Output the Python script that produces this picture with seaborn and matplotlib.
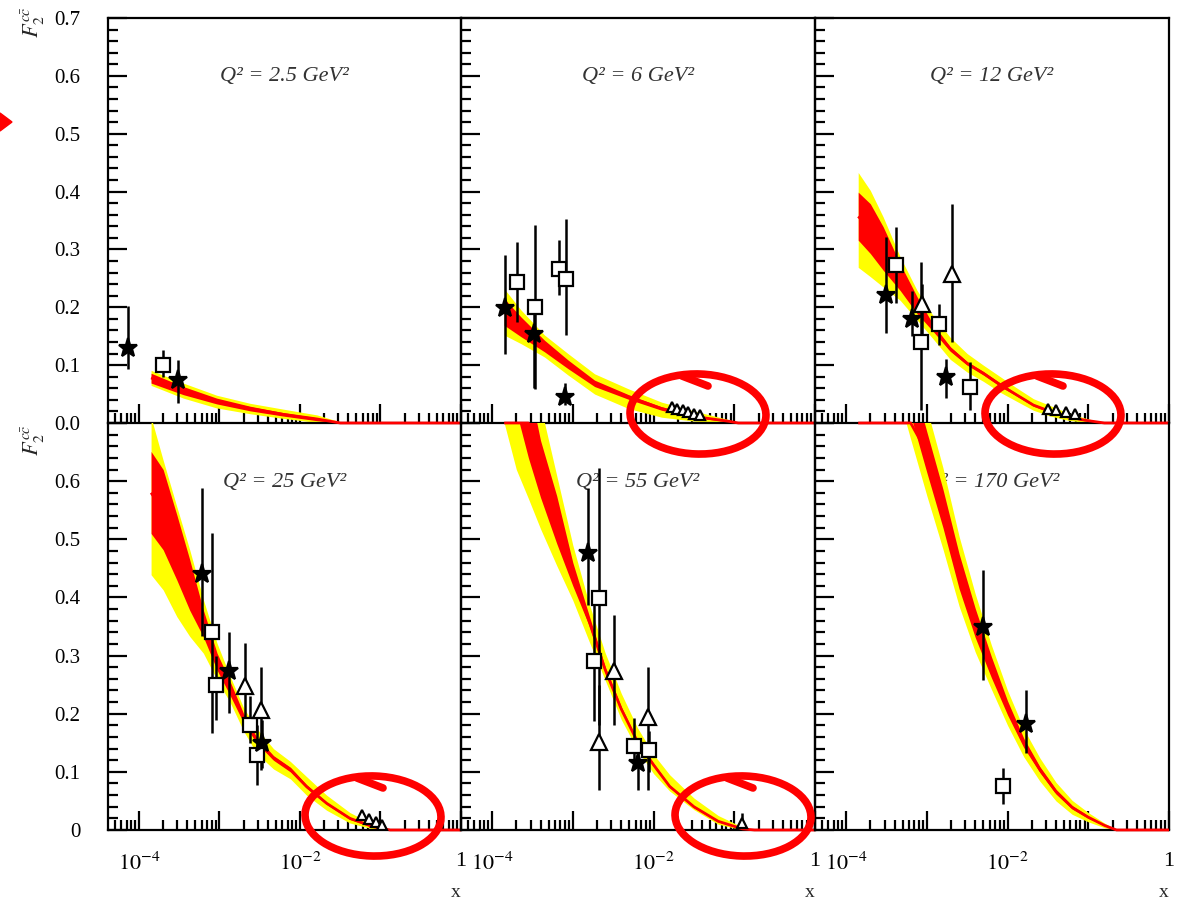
import numpy as np
import pandas as pd
import matplotlib
matplotlib.use("Agg")
import matplotlib.pyplot as plt
import seaborn as sns
from matplotlib.ticker import FixedLocator, FixedFormatter, LogLocator, FuncFormatter, NullFormatter, MultipleLocator
from matplotlib.patches import Ellipse, Polygon
from matplotlib.lines import Line2D

# ---------------- data ----------------
Q2_LABELS = ["Q² = 2.5 GeV²", "Q² = 6 GeV²", "Q² = 12 GeV²",
             "Q² = 25 GeV²", "Q² = 55 GeV²", "Q² = 170 GeV²"]

# theory bands: log10(x), yellow low, red low, central, red high, yellow high
B1_LX = [-3.85, -3.45, -3.035, -2.62, -2.21, -1.79, -1.50, 0.0]
B1_YL = [0.065, 0.043, 0.026, 0.016, 0.008, 0.001, 0.0, 0.0]
B1_RL = [0.069, 0.049, 0.033, 0.021, 0.012, 0.004, 0.0, 0.0]
B1_C = [0.078, 0.056, 0.038, 0.025, 0.015, 0.007, 0.0, 0.0]
B1_RH = [0.086, 0.063, 0.043, 0.029, 0.018, 0.009, 0.001, 0.0]
B1_YH = [0.091, 0.069, 0.048, 0.034, 0.024, 0.014, 0.002, 0.0]

B2_LX = [-3.85, -3.64, -3.35, -3.06, -2.73, -2.31, -1.90, -1.48, -1.07, -0.95, 0.0]
B2_YL = [0.152, 0.137, 0.114, 0.083, 0.050, 0.025, 0.010, 0.003, 0.0, 0.0, 0.0]
B2_RL = [0.169, 0.149, 0.123, 0.094, 0.063, 0.041, 0.022, 0.009, 0.002, 0.0, 0.0]
B2_C = [0.192, 0.166, 0.133, 0.100, 0.068, 0.045, 0.025, 0.011, 0.003, 0.0, 0.0]
B2_RH = [0.215, 0.183, 0.143, 0.109, 0.074, 0.049, 0.028, 0.013, 0.004, 0.0, 0.0]
B2_YH = [0.232, 0.195, 0.152, 0.120, 0.085, 0.059, 0.036, 0.020, 0.006, 0.0, 0.0]

B3_LX = [-3.85, -3.70, -3.54, -3.33, -3.12, -2.92, -2.71, -2.50, -2.30, -2.09, -1.88,
         -1.68, -1.47, -1.26, -1.05, -0.80, 0.0]
B3_YL = [0.269, 0.253, 0.235, 0.212, 0.178, 0.145, 0.110, 0.088, 0.072, 0.053, 0.037,
         0.022, 0.012, 0.005, 0.001, 0.0, 0.0]
B3_RL = [0.316, 0.293, 0.264, 0.229, 0.189, 0.158, 0.124, 0.100, 0.083, 0.063, 0.046,
         0.029, 0.018, 0.009, 0.004, 0.0, 0.0]
B3_C = [0.357, 0.336, 0.300, 0.252, 0.203, 0.164, 0.128, 0.103, 0.086, 0.066, 0.048,
        0.031, 0.020, 0.011, 0.005, 0.0, 0.0]
B3_RH = [0.399, 0.379, 0.339, 0.275, 0.218, 0.170, 0.132, 0.106, 0.089, 0.069, 0.050,
         0.033, 0.022, 0.013, 0.006, 0.0, 0.0]
B3_YH = [0.433, 0.402, 0.356, 0.287, 0.229, 0.185, 0.148, 0.120, 0.100, 0.080, 0.060,
         0.042, 0.030, 0.018, 0.009, 0.0, 0.0]

B4_LX = [-3.85, -3.70, -3.53, -3.37, -3.20, -3.03, -2.87, -2.70, -2.54, -2.33, -2.12,
         -1.92, -1.67, -1.38, -1.10, -0.88, 0.0]
B4_YL = [0.439, 0.413, 0.367, 0.333, 0.304, 0.258, 0.220, 0.170, 0.132, 0.105, 0.088,
         0.060, 0.034, 0.012, 0.002, 0.0, 0.0]
B4_RL = [0.510, 0.482, 0.430, 0.378, 0.332, 0.275, 0.232, 0.184, 0.150, 0.120, 0.100,
         0.072, 0.044, 0.018, 0.005, 0.0, 0.0]
B4_C = [0.580, 0.550, 0.486, 0.420, 0.355, 0.290, 0.244, 0.192, 0.155, 0.124, 0.104,
        0.075, 0.046, 0.020, 0.006, 0.0, 0.0]
B4_RH = [0.651, 0.620, 0.542, 0.465, 0.378, 0.304, 0.256, 0.200, 0.160, 0.128, 0.108,
         0.078, 0.048, 0.022, 0.007, 0.0, 0.0]
B4_YH = [0.710, 0.636, 0.556, 0.482, 0.396, 0.321, 0.265, 0.210, 0.175, 0.140, 0.118,
         0.092, 0.060, 0.030, 0.010, 0.0, 0.0]

B5_LX = [-3.85, -3.70, -3.55, -3.40, -3.20, -3.00, -2.80, -2.60, -2.40, -2.20, -2.00,
         -1.80, -1.50, -1.20, -0.90, -0.75, 0.0]
B5_YL = [0.700, 0.620, 0.570, 0.518, 0.455, 0.395, 0.325, 0.258, 0.190, 0.138, 0.097,
         0.067, 0.035, 0.010, 0.0, 0.0, 0.0]
B5_RL = [0.800, 0.720, 0.640, 0.572, 0.493, 0.420, 0.352, 0.271, 0.204, 0.149, 0.109,
         0.073, 0.038, 0.014, 0.001, 0.0, 0.0]
B5_C = [0.850, 0.770, 0.700, 0.620, 0.530, 0.440, 0.360, 0.276, 0.208, 0.152, 0.112,
        0.075, 0.040, 0.015, 0.002, 0.0, 0.0]
B5_RH = [0.900, 0.840, 0.770, 0.670, 0.575, 0.460, 0.370, 0.281, 0.212, 0.155, 0.115,
         0.077, 0.042, 0.016, 0.003, 0.0, 0.0]
B5_YH = [0.950, 0.880, 0.800, 0.730, 0.610, 0.490, 0.390, 0.305, 0.235, 0.176, 0.130,
         0.095, 0.055, 0.025, 0.005, 0.0, 0.0]

B6_LX = [-3.85, -3.50, -3.20, -3.00, -2.80, -2.60, -2.40, -2.20, -2.00, -1.80, -1.60,
         -1.40, -1.20, -1.00, -0.80, -0.65, 0.0]
B6_YL = [0.970, 0.820, 0.672, 0.575, 0.483, 0.385, 0.306, 0.242, 0.180, 0.126, 0.084,
         0.050, 0.027, 0.014, 0.004, 0.0, 0.0]
B6_RL = [1.010, 0.860, 0.713, 0.615, 0.520, 0.415, 0.331, 0.262, 0.198, 0.142, 0.099,
         0.062, 0.036, 0.020, 0.007, 0.0, 0.0]
B6_C = [1.050, 0.900, 0.750, 0.650, 0.553, 0.445, 0.356, 0.280, 0.210, 0.150, 0.104,
        0.066, 0.039, 0.022, 0.008, 0.0, 0.0]
B6_RH = [1.090, 0.940, 0.787, 0.685, 0.586, 0.475, 0.381, 0.298, 0.222, 0.158, 0.109,
         0.070, 0.042, 0.024, 0.009, 0.0, 0.0]
B6_YH = [1.130, 0.980, 0.828, 0.725, 0.623, 0.505, 0.406, 0.318, 0.240, 0.174, 0.124,
         0.082, 0.051, 0.030, 0.012, 0.0, 0.0]

# data points: panel index, log10(x), value, error-bar low, error-bar high
STAR_PANEL = [0, 0, 1, 1, 1, 2, 2, 2, 3, 3, 3, 4, 4, 5, 5]
STAR_LX = [-4.137, -3.52, -3.845, -3.48, -3.10, -3.51, -3.18, -2.76,
           -3.22, -2.88, -2.47, -2.81, -2.19, -2.30, -1.77]
STAR_V = [0.129, 0.074, 0.198, 0.153, 0.045, 0.222, 0.180, 0.080,
          0.440, 0.273, 0.150, 0.476, 0.115, 0.349, 0.182]
STAR_LO = [0.093, 0.034, 0.120, 0.060, 0.031, 0.155, 0.150, 0.043,
           0.333, 0.201, 0.106, 0.387, 0.069, 0.258, 0.132]
STAR_HI = [0.203, 0.109, 0.290, 0.190, 0.069, 0.321, 0.229, 0.111,
           0.588, 0.341, 0.190, 0.588, 0.140, 0.447, 0.241]

SQ_PANEL = [0, 1, 1, 1, 1, 2, 2, 2, 2, 3, 3, 3, 3, 4, 4, 4, 4, 5]
SQ_LX = [-3.70, -3.69, -3.47, -3.17, -3.08, -3.38, -3.07, -2.85, -2.46,
         -3.09, -3.04, -2.62, -2.54, -2.68, -2.74, -2.24, -2.06, -2.06]
SQ_V = [0.101, 0.244, 0.200, 0.267, 0.249, 0.273, 0.140, 0.171, 0.063,
        0.341, 0.250, 0.181, 0.129, 0.399, 0.290, 0.144, 0.138, 0.075]
SQ_LO = [0.080, 0.175, 0.058, 0.221, 0.152, 0.207, 0.022, 0.134, 0.022,
         0.167, 0.190, 0.150, 0.078, 0.180, 0.187, 0.110, 0.100, 0.044]
SQ_HI = [0.127, 0.313, 0.343, 0.317, 0.353, 0.338, 0.278, 0.206, 0.106,
         0.510, 0.300, 0.230, 0.180, 0.622, 0.387, 0.192, 0.170, 0.107]

TRI_PANEL = [2, 2, 3, 3, 4, 4, 4]
TRI_LX = [-3.06, -2.69, -2.68, -2.49, -2.68, -2.49, -2.07]
TRI_V = [0.206, 0.257, 0.247, 0.207, 0.152, 0.273, 0.195]
TRI_LO = [0.150, 0.140, 0.190, 0.104, 0.069, 0.181, 0.069]
TRI_HI = [0.240, 0.379, 0.321, 0.281, 0.250, 0.370, 0.281]

STRI_PANEL = [1, 1, 1, 1, 1, 1, 2, 2, 2, 2, 3, 3, 3, 3, 4]
STRI_LX = [-1.77, -1.71, -1.64, -1.57, -1.50, -1.42, -1.50, -1.40, -1.28, -1.16,
           -1.23, -1.14, -1.06, -0.98, -0.90]
STRI_V = [0.027, 0.025, 0.022, 0.019, 0.016, 0.013, 0.024, 0.022, 0.019, 0.016,
          0.025, 0.019, 0.013, 0.008, 0.012]
STRI_LO = [0.022, 0.020, 0.017, 0.014, 0.011, 0.008, 0.019, 0.017, 0.014, 0.011,
           0.020, 0.014, 0.008, 0.004, 0.006]
STRI_HI = [0.032, 0.030, 0.027, 0.024, 0.021, 0.018, 0.029, 0.027, 0.024, 0.021,
           0.031, 0.025, 0.018, 0.012, 0.030]

Y_TICKS = [0.0, 0.1, 0.2, 0.3, 0.4, 0.5, 0.6, 0.7]
Y_LABELS_TOP = ["0.0", "0.1", "0.2", "0.3", "0.4", "0.5", "0.6", "0.7"]
Y_LABELS_BOT = ["0", "0.1", "0.2", "0.3", "0.4", "0.5", "0.6", ""]

# ---------------- style ----------------
sns.set_theme(style="ticks")
plt.rcParams["font.family"] = ["Liberation Serif", "DejaVu Serif"]
plt.rcParams["mathtext.fontset"] = "stix"

BANDS = [
    (B1_LX, B1_YL, B1_RL, B1_C, B1_RH, B1_YH),
    (B2_LX, B2_YL, B2_RL, B2_C, B2_RH, B2_YH),
    (B3_LX, B3_YL, B3_RL, B3_C, B3_RH, B3_YH),
    (B4_LX, B4_YL, B4_RL, B4_C, B4_RH, B4_YH),
    (B5_LX, B5_YL, B5_RL, B5_C, B5_RH, B5_YH),
    (B6_LX, B6_YL, B6_RL, B6_C, B6_RH, B6_YH),
]

def points(panel, lx, v, lo, hi):
    return pd.DataFrame({"panel": panel, "x": 10.0 ** np.asarray(lx), "v": v, "lo": lo, "hi": hi})

stars = points(STAR_PANEL, STAR_LX, STAR_V, STAR_LO, STAR_HI)
squares = points(SQ_PANEL, SQ_LX, SQ_V, SQ_LO, SQ_HI)
tris = points(TRI_PANEL, TRI_LX, TRI_V, TRI_LO, TRI_HI)
stris = points(STRI_PANEL, STRI_LX, STRI_V, STRI_LO, STRI_HI)

W, H = 1184, 901
fig = plt.figure(figsize=(W / 100, H / 100), dpi=100)
fig.patch.set_facecolor("white")

COL_LEFT = [108, 461, 815]
COL_W = [353, 354, 354]
ROWS = [(18, 423), (423, 830)]
XMIN = 10 ** -4.385
YMAX = 0.7

def xfmt(val, pos):
    e = int(round(np.log10(val)))
    if e == 0:
        return "1"
    if e in (-4, -2):
        return r"$10^{%d}$" % e
    return ""

for i in range(6):
    r, c = divmod(i, 3)
    top, bot = ROWS[r]
    ax = fig.add_axes([COL_LEFT[c] / W, 1 - bot / H, COL_W[c] / W, (bot - top) / H])
    ax.patch.set_visible(False)
    ax.set_xscale("log")
    ax.set_xlim(XMIN, 1.0)
    ax.set_ylim(0, YMAX)

    lx, yl, rl, cc, rh, yh = BANDS[i]
    xx = 10.0 ** np.asarray(lx)
    ax.fill_between(xx, yl, yh, color="#ffff00", linewidth=0, zorder=1)
    ax.fill_between(xx, rl, rh, color="#ff0000", linewidth=0, zorder=2)
    # central curve; values above the frame are drawn along the top edge (ROOT style)
    sns.lineplot(x=xx, y=np.minimum(np.asarray(cc), YMAX), color="#ff0000", linewidth=2.0,
                 ax=ax, zorder=3, sort=False, estimator=None, solid_capstyle="butt",
                 clip_on=False)

    ax.text(0.5, 0.855, Q2_LABELS[i], transform=ax.transAxes, ha="center", va="center",
            fontsize=16, style="italic", color="#333333", zorder=0.5)

    for df, mk, ms, fc in [(squares, "s", 10.5, "white"), (tris, "^", 11, "white"),
                           (stris, "^", 6.5, "white"), (stars, "*", 14, "black")]:
        d = df[df["panel"] == i]
        if len(d) == 0:
            continue
        ax.vlines(d["x"], d["lo"], d["hi"], color="black", linewidth=1.8, zorder=4)
        ax.plot(d["x"], d["v"], linestyle="none", marker=mk, markersize=ms,
                markerfacecolor=fc, markeredgecolor="black", markeredgewidth=1.6, zorder=5)

    ax.set_xlabel("")
    ax.set_ylabel("")
    for s in ax.spines.values():
        s.set_visible(True)
        s.set_color("black")
        s.set_linewidth(1.6)
        s.set_zorder(2.5)
    if r == 1:
        ax.spines["top"].set_visible(False)

    ax.xaxis.set_major_locator(LogLocator(base=10, numticks=12))
    ax.xaxis.set_minor_locator(LogLocator(base=10, subs=np.arange(2, 10), numticks=12))
    ax.xaxis.set_major_formatter(FuncFormatter(xfmt))
    ax.xaxis.set_minor_formatter(NullFormatter())
    ax.yaxis.set_major_locator(FixedLocator(Y_TICKS))
    ax.yaxis.set_minor_locator(MultipleLocator(0.02))
    ax.yaxis.set_major_formatter(FixedFormatter(Y_LABELS_TOP if r == 0 else Y_LABELS_BOT))

    ax.tick_params(which="both", direction="in", top=False, right=False,
                   width=1.6, color="black", labelcolor="black")
    ax.tick_params(which="major", length=14)
    ax.tick_params(which="minor", length=7)
    ax.tick_params(axis="y", pad=20, labelsize=15)
    ax.tick_params(axis="x", pad=16, labelsize=16)
    if r == 0:
        ax.tick_params(axis="x", labelbottom=False)
    else:
        ax.set_xlabel("x", loc="right", fontsize=14, labelpad=7)
    if c != 0:
        ax.tick_params(axis="y", labelleft=False)

# y-axis titles
fig.text(33 / W, 1 - 6 / H, r"$F_2^{c\bar{c}}$", rotation=90, ha="center", va="top", fontsize=16)
fig.text(33 / W, 1 - 424 / H, r"$F_2^{c\bar{c}}$", rotation=90, ha="center", va="top", fontsize=16)

# red hand-drawn annotations
fig.add_artist(Polygon([(0 / W, 1 - 113 / H), (12 / W, 1 - 122 / H), (0 / W, 1 - 131 / H)],
                       closed=True, transform=fig.transFigure, color="#ff0000", zorder=20))
for cx, cy in [(698, 414), (1053, 414), (373, 816), (743, 816)]:
    fig.add_artist(Ellipse((cx / W, 1 - cy / H), 136 / W, 80 / H, angle=-3,
                           transform=fig.transFigure, fill=False, edgecolor="#ff0000",
                           linewidth=5.5, zorder=20))
    fig.add_artist(Line2D([(cx + 10) / W, (cx - 16) / W], [1 - (cy - 28) / H, 1 - (cy - 38) / H],
                          transform=fig.transFigure, color="#ff0000", linewidth=5.5,
                          solid_capstyle="round", zorder=20))

fig.savefig("out.png", dpi=100, facecolor="white")
